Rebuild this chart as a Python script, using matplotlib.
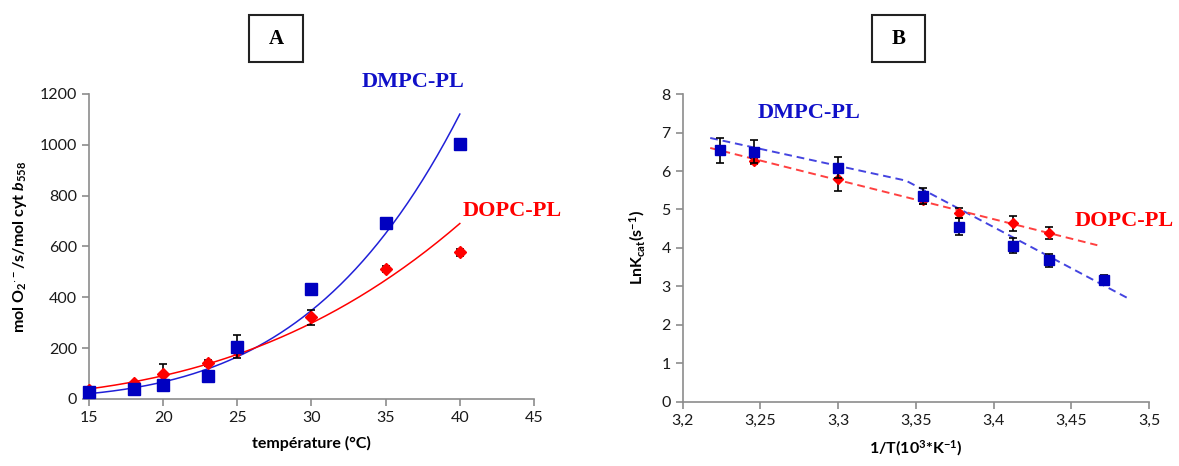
import numpy as np
import matplotlib
matplotlib.use("Agg")
import matplotlib.pyplot as plt
from matplotlib.patches import Rectangle

plt.rcParams["font.family"] = ["Lato", "DejaVu Sans"]
# every mathtext label in this figure is bold
plt.rcParams["mathtext.fontset"] = "custom"
plt.rcParams["mathtext.rm"] = "Lato:bold"
plt.rcParams["mathtext.bf"] = "Lato:bold"
plt.rcParams["mathtext.it"] = "Lato:bold:italic"

## Panel A : activity vs temperature
temp_c = [15, 18, 20, 23, 25, 30, 35, 40]
dmpc_rate = [26, 39, 55, 89, 206, 433, 691, 1002]
dmpc_rate_err = [0, 0, 0, 8, 45, 0, 0, 0]
dopc_rate = [37, 63, 98, 141, 187, 322, 511, 577]
dopc_rate_err = [0, 0, 40, 13, 0, 30, 12, 14]

## Panel B : Arrhenius plot
inv_t = [3.224, 3.2458, 3.300, 3.3547, 3.378, 3.4125, 3.4356, 3.4708]
dmpc_lnk = [6.54, 6.50, 6.09, 5.36, 4.55, 4.06, 3.68, 3.16]
dmpc_lnk_err = [0.33, 0.30, 0.27, 0.21, 0.22, 0.20, 0.17, 0.13]
inv_t_dopc = [3.2458, 3.300, 3.3547, 3.378, 3.4125, 3.4356]
dopc_lnk = [6.26, 5.78, 5.24, 4.92, 4.64, 4.38]
dopc_lnk_err = [0.08, 0.29, 0.10, 0.13, 0.20, 0.16]
# trend lines drawn in the original
dmpc_fit_x = [3.2178, 3.3436, 3.4877]
dmpc_fit_y = [6.86, 5.75, 2.66]
dopc_fit_x = [3.2178, 3.4666]
dopc_fit_y = [6.60, 4.07]

a_xticks = [15, 20, 25, 30, 35, 40, 45]
a_yticks = [0, 200, 400, 600, 800, 1000, 1200]
b_xticks = [3.2, 3.25, 3.3, 3.35, 3.4, 3.45, 3.5]
b_xticklabels = ["3,2", "3,25", "3,3", "3,35", "3,4", "3,45", "3,5"]
b_yticks = [0, 1, 2, 3, 4, 5, 6, 7, 8]

blue = "#0000C0"
red = "#FF0000"
axis_grey = "#8C8C8C"
tick_size = 11.5
label_font = {"fontsize": 11.5, "fontweight": "bold"}
serif_font = {"family": "Liberation Serif", "fontweight": "bold", "fontsize": 16}


def style_axes(ax):
    for side in ["top", "right"]:
        ax.spines[side].set_visible(False)
    for side in ["left", "bottom"]:
        ax.spines[side].set_color(axis_grey)
        ax.spines[side].set_linewidth(1.2)
    ax.tick_params(direction="out", length=5, width=1.2, color=axis_grey,
                   labelsize=tick_size, labelcolor="#1a1a1a")


def power_fit(x, y):
    n, lna = np.polyfit(np.log(x), np.log(y), 1)
    return lambda t: np.exp(lna) * t ** n


fig = plt.figure(figsize=(11.79, 4.66), dpi=100)

# ---------- A ----------
axA = fig.add_axes([0.0755, 0.1438, 0.3774, 0.6545])
style_axes(axA)
xs = np.linspace(15, 40, 200)
axA.plot(xs, power_fit(temp_c, dmpc_rate)(xs), color="#2020D8", lw=1.1, zorder=2)
axA.plot(xs, power_fit(temp_c, dopc_rate)(xs), color=red, lw=1.1, zorder=2)
axA.errorbar(temp_c, dopc_rate, yerr=dopc_rate_err, fmt="D", color=red, ms=6.5,
             ecolor="black", elinewidth=1.2, capsize=3, capthick=1.2, zorder=3,
             clip_on=False)
axA.errorbar(temp_c, dmpc_rate, yerr=dmpc_rate_err, fmt="s", color=blue, ms=8.5,
             ecolor="black", elinewidth=1.2, capsize=3, capthick=1.2, zorder=4,
             clip_on=False)
axA.set_xlim(15, 45)
axA.set_ylim(0, 1200)
axA.set_xticks(a_xticks)
axA.set_yticks(a_yticks)
axA.set_xlabel("température (°C)", labelpad=8, **label_font)
axA.set_ylabel(r"mol O$_2$$^{\cdot -}$/s/mol cyt $\mathit{b}$$_{558}$",
               labelpad=8, **label_font)
fig.text(362 / 1179, 1 - 82 / 466, "DMPC-PL", color="#1010C8", ha="left", va="center", **serif_font)
fig.text(463 / 1179, 1 - 211 / 466, "DOPC-PL", color=red, ha="left", va="center", **serif_font)

# ---------- B ----------
axB = fig.add_axes([0.5789, 0.138, 0.3959, 0.660])
style_axes(axB)
axB.plot(dmpc_fit_x, dmpc_fit_y, ls=(0, (4, 2.5)), color="#4444E0", lw=1.4, zorder=2)
axB.plot(dopc_fit_x, dopc_fit_y, ls=(0, (4, 2.5)), color="#FF4040", lw=1.4, zorder=2)
axB.errorbar(inv_t_dopc, dopc_lnk, yerr=dopc_lnk_err, fmt="D", color=red, ms=5.5,
             ecolor="black", elinewidth=1.2, capsize=3, capthick=1.2, zorder=3)
axB.errorbar(inv_t, dmpc_lnk, yerr=dmpc_lnk_err, fmt="s", color=blue, ms=6.5,
             ecolor="black", elinewidth=1.2, capsize=3, capthick=1.2, zorder=4)
axB.set_xlim(3.2, 3.5)
axB.set_ylim(0, 8)
axB.set_xticks(b_xticks)
axB.set_xticklabels(b_xticklabels)
axB.set_yticks(b_yticks)
axB.set_xlabel(r"1/T(10$^3$*K$^{-1}$)", labelpad=8, **label_font)
axB.set_ylabel(r"LnK$_{\mathrm{cat}}$(s$^{-1}$)", labelpad=10, **label_font)
fig.text(758 / 1179, 1 - 113 / 466, "DMPC-PL", color="#1010C8", ha="left", va="center", **serif_font)
fig.text(1075 / 1179, 1 - 221 / 466, "DOPC-PL", color=red, ha="left", va="center", **serif_font)

# ---------- boxed panel letters ----------
for (x0, x1, letter) in [(249, 303, "A"), (872, 925, "B")]:
    fig.patches.append(Rectangle((x0 / 1179, 1 - 62 / 466), (x1 - x0) / 1179, 47 / 466,
                                 transform=fig.transFigure, fill=False,
                                 edgecolor="#222222", lw=1.5))
    fig.text((x0 + x1) / 2 / 1179, 1 - 39 / 466, letter, ha="center", va="center",
             family="Liberation Serif", fontweight="bold", fontsize=15)

fig.savefig("out.png", dpi=100)
